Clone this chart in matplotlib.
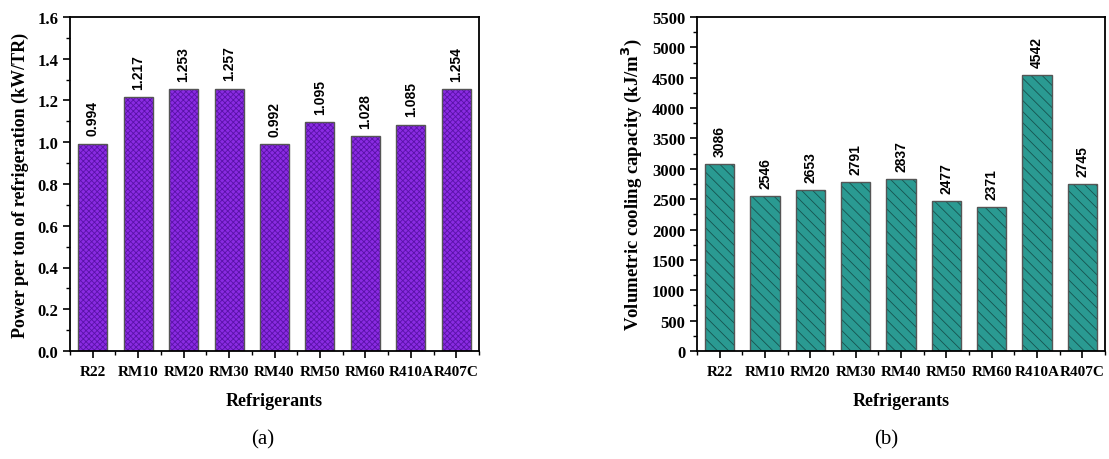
import matplotlib
matplotlib.use("Agg")
import matplotlib.pyplot as plt
import numpy as np

refrigerants = ["R22", "RM10", "RM20", "RM30", "RM40", "RM50", "RM60", "R410A", "R407C"]
power_per_ton = [0.994, 1.217, 1.253, 1.257, 0.992, 1.095, 1.028, 1.085, 1.254]
vol_capacity = [3086, 2546, 2653, 2791, 2837, 2477, 2371, 4542, 2745]

plt.rcParams["hatch.linewidth"] = 0.6
serif = ["Liberation Serif", "DejaVu Serif"]
sans = ["Liberation Sans", "DejaVu Sans"]

fig = plt.figure(figsize=(11.09, 4.60), dpi=100)
W, H = 1109, 460
ax1 = fig.add_axes([70 / W, 1 - 352 / H, (479 - 70) / W, (352 - 18) / H])
ax2 = fig.add_axes([697 / W, 1 - 352 / H, (1105 - 697) / W, (352 - 18) / H])


def style_axis(ax, ylim, major, minor, ylabel, fmt, ylabel_size):
    x = np.arange(len(refrigerants))
    ax.set_xlim(-0.5, len(refrigerants) - 0.5)
    ax.set_ylim(*ylim)
    ax.set_xticks(x)
    ax.set_xticks(np.arange(-0.5, len(refrigerants), 1.0), minor=True)
    ax.set_xticklabels(refrigerants, fontfamily=serif, fontweight="bold", fontsize=11)
    ax.set_yticks(np.arange(ylim[0], ylim[1] + major / 2, major))
    ax.set_yticks(np.arange(ylim[0], ylim[1] + minor / 2, minor), minor=True)
    ax.set_yticklabels([fmt.format(v) for v in ax.get_yticks()],
                       fontfamily=serif, fontweight="bold", fontsize=12)
    ax.tick_params(axis="both", which="major", direction="out", length=5, width=1.2)
    ax.tick_params(axis="both", which="minor", direction="out", length=3, width=1.0)
    ax.tick_params(axis="x", which="major", pad=5)
    for s in ax.spines.values():
        s.set_linewidth(1.3)
    ax.set_xlabel("Refrigerants", fontfamily=serif, fontweight="bold", fontsize=13, labelpad=10)
    ax.set_ylabel(ylabel, fontfamily=serif, fontweight="bold", fontsize=ylabel_size, labelpad=6)


def draw_bars(ax, values, face, hatch_col, hatch, fmt, offset):
    x = np.arange(len(values))
    bars = ax.bar(x, values, width=0.64, color=face, edgecolor=hatch_col,
                  hatch=hatch, linewidth=0)
    ax.bar(x, values, width=0.64, facecolor="none", edgecolor="#555555", linewidth=1.0)
    for b, v in zip(bars, values):
        ax.text(b.get_x() + b.get_width() / 2, v + offset, fmt.format(v),
                rotation=90, ha="center", va="bottom",
                fontfamily=sans, fontweight="bold", fontsize=10)


draw_bars(ax1, power_per_ton, "#8a2be2", "#5a12a8", "xxxxxx", "{:.3f}", 0.04)
style_axis(ax1, (0.0, 1.6), 0.2, 0.1, "Power per ton of refrigeration (kW/TR)", "{:.1f}", 13)

draw_bars(ax2, vol_capacity, "#2a9a92", "#16534f", "\\\\\\", "{:d}", 130)
style_axis(ax2, (0, 5500), 500, 250, "Volumetric cooling capacity (kJ/m$^\\mathbf{3}$)", "{:.0f}", 13.5)

fig.text(263 / W, 1 - 440 / H, "(a)", ha="center", va="center",
         fontfamily=serif, fontsize=15)
fig.text(886 / W, 1 - 440 / H, "(b)", ha="center", va="center",
         fontfamily=serif, fontsize=15)

fig.savefig("out.png", dpi=100)
